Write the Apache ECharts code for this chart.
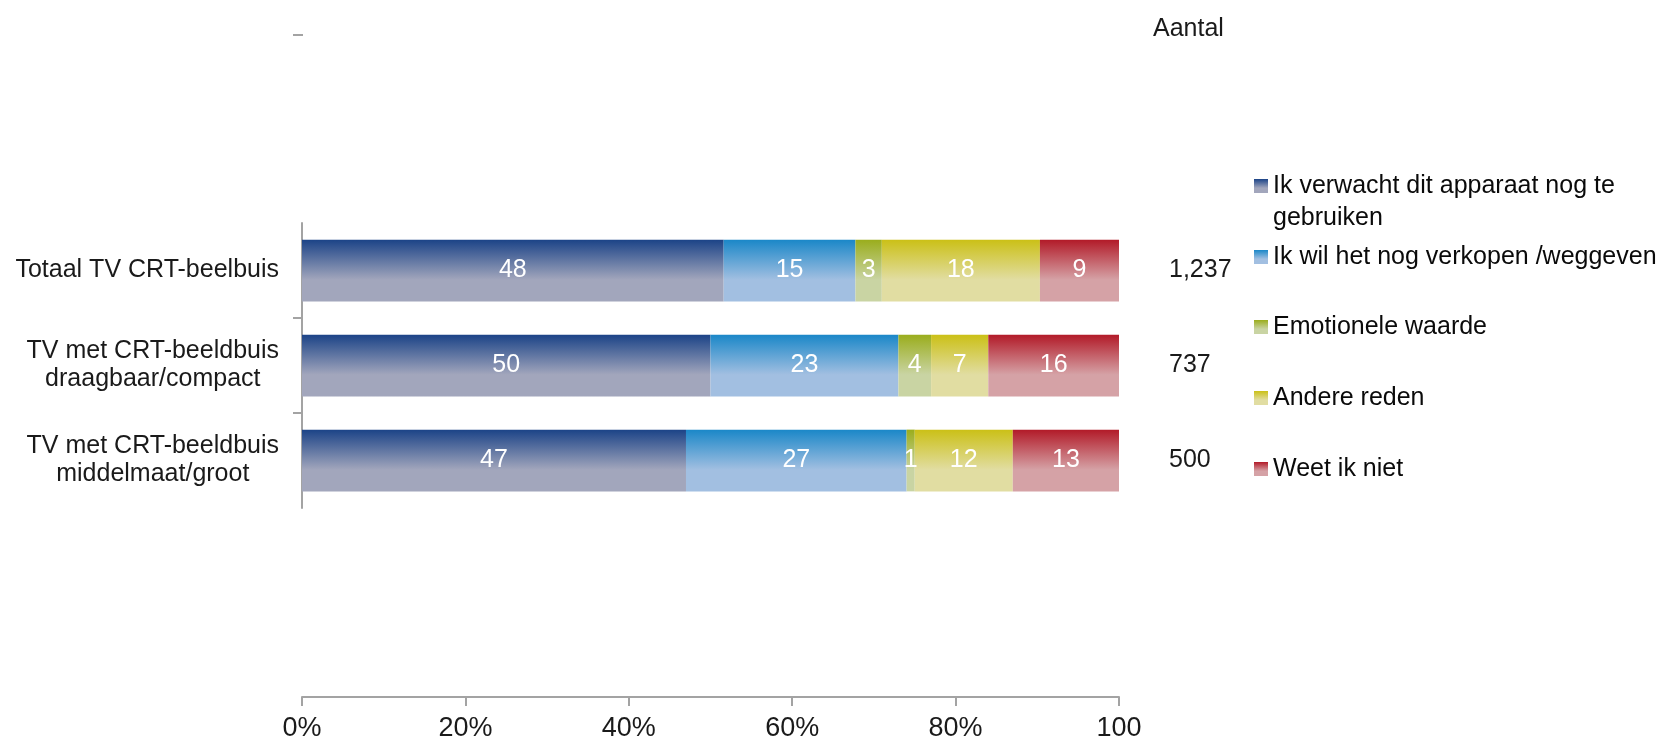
<!DOCTYPE html>
<html>
<head>
<meta charset="utf-8">
<script src="https://cdn.jsdelivr.net/npm/echarts@6/dist/echarts.min.js"></script>
<style>
html, body { margin: 0; padding: 0; background: #fff; }
#chart { width: 1672px; height: 739px; }
</style>
</head>
<body>
<div id="chart"></div>
<script>
// data
var categories = ['Totaal TV CRT-beelbuis', 'TV met CRT-beeldbuis\ndraagbaar/compact', 'TV met CRT-beeldbuis\nmiddelmaat/groot'];
var counts = [1237, 737, 500];
var seriesNames = ['Ik verwacht dit apparaat nog te gebruiken', 'Ik wil het nog verkopen /weggeven', 'Emotionele waarde', 'Andere reden', 'Weet ik niet'];
var legendLabels = ['\nIk verwacht dit apparaat nog te\ngebruiken', 'Ik wil het nog verkopen /weggeven', 'Emotionele waarde', 'Andere reden', 'Weet ik niet'];
var verwacht = [48, 50, 47];
var verkopen = [15, 23, 27];
var emotioneel = [3, 4, 1];
var andere = [18, 7, 12];
var weetNiet = [9, 16, 13];
var xTickLabels = ['0%', '20%', '40%', '60%', '80%', '100'];

var rows = [verwacht, verkopen, emotioneel, andere, weetNiet];
var topColors = ['#1b4387', '#1a87c8', '#9aad1c', '#cbc016', '#b21a28'];
var bottomColors = ['#a2a6bc', '#a2bfe1', '#c9d4a3', '#e1dda2', '#d5a2a6'];

var regular = "'Liberation Sans', Arial, sans-serif";
var axisGrey = '#a3a3a3';

// each bar is shown as share of its row total, label keeps the raw number
var totals = categories.map(function (c, j) {
	var t = 0;
	rows.forEach(function (r) { t += r[j]; });
	return t;
});

var series = rows.map(function (r, i) {
	return {
		name: seriesNames[i],
		type: 'bar',
		stack: 'all',
		barWidth: '65%',
		yAxisIndex: 0,
		data: r.map(function (v, j) { return v / totals[j] * 100; }),
		itemStyle: {
			color: new echarts.graphic.LinearGradient(0, 0, 0, 1, [
				{ offset: 0, color: topColors[i] },
				{ offset: 0.65, color: bottomColors[i] },
				{ offset: 1, color: bottomColors[i] }
			])
		},
		label: {
			show: true,
			position: 'inside',
			color: '#fff',
			fontSize: 25,
			fontFamily: regular,
			formatter: function (p) { return r[p.dataIndex]; }
		},
		emphasis: { disabled: true }
	};
});

var legendTops = [138, 242, 312, 383, 454];
var legends = seriesNames.map(function (n, i) {
	return {
		data: [n],
		left: 1254,
		top: legendTops[i],
		padding: 0,
		icon: 'rect',
		itemWidth: 14,
		itemHeight: 14,
		selectedMode: false,
		formatter: function () { return legendLabels[i]; },
		textStyle: {
			fontSize: 25,
			fontFamily: regular,
			color: '#0a0a0a',
			lineHeight: i === 0 ? 32 : 30
		}
	};
});

var option = {
	animation: false,
	backgroundColor: '#fff',
	title: {
		text: 'Aantal',
		left: 1153,
		top: 14,
		padding: 0,
		textStyle: { fontSize: 25, fontWeight: 'normal', fontFamily: regular, color: '#1a1a1a', lineHeight: 30 }
	},
	legend: legends,
	grid: { left: 302, right: 553, top: 223, bottom: 231, outerBoundsMode: 'none' },
	xAxis: {
		type: 'value',
		min: 0,
		max: 100,
		interval: 20,
		offset: 189,
		axisLine: { show: true, onZero: false, lineStyle: { color: axisGrey, width: 2 } },
		axisTick: { show: true, length: 9, lineStyle: { color: axisGrey, width: 2 } },
		splitLine: { show: false },
		axisLabel: {
			margin: 18,
			fontSize: 27,
			fontFamily: regular,
			color: '#1a1a1a',
			formatter: function (v) { return xTickLabels[Math.round(v / 20)]; }
		}
	},
	yAxis: [{
		type: 'category',
		data: categories,
		inverse: true,
		axisLine: { show: false },
		axisTick: { show: false },
		axisLabel: {
			margin: 23,
			formatter: function (v) {
				return v.split('\n').map(function (s) { return '{c|' + s + '}'; }).join('\n');
			},
			rich: {
				c: { align: 'center', fontSize: 25, fontFamily: regular, color: '#1a1a1a', lineHeight: 28 }
			}
		}
	}, {
		type: 'category',
		data: categories,
		inverse: true,
		position: 'right',
		axisLine: { show: false },
		axisTick: { show: false },
		axisLabel: {
			margin: 50,
			align: 'left',
			fontSize: 25,
			fontFamily: regular,
			color: '#1a1a1a',
			formatter: function (v, i) { return counts[i].toLocaleString('en-US'); }
		}
	}, {
		// carries the left axis line with ticks only between the categories
		type: 'value',
		position: 'left',
		min: 0,
		max: categories.length,
		inverse: true,
		axisLine: { show: true, onZero: false, lineStyle: { color: axisGrey, width: 2 } },
		axisTick: { show: true, length: 9, customValues: [1, 2], lineStyle: { color: axisGrey, width: 2 } },
		axisLabel: { show: false },
		splitLine: { show: false }
	}],
	graphic: [{
		type: 'line',
		shape: { x1: 293, y1: 35, x2: 303, y2: 35 },
		style: { stroke: axisGrey, lineWidth: 2 }
	}],
	series: series
};

var myChart = echarts.init(document.getElementById('chart'));
myChart.setOption(option);
</script>
</body>
</html>
